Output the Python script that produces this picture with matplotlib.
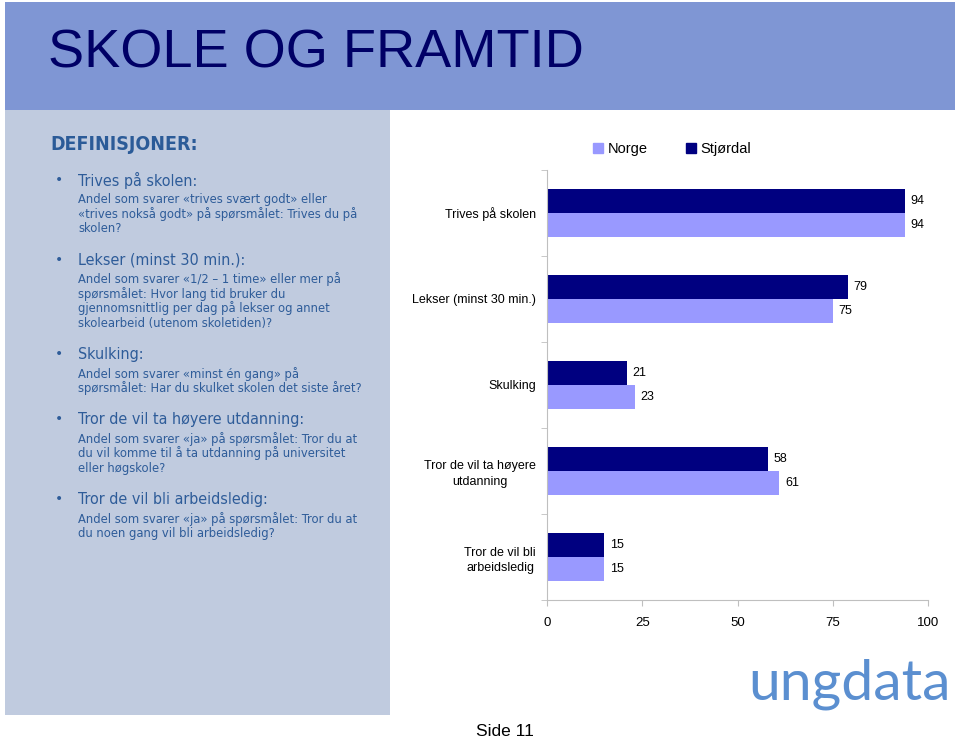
import matplotlib
matplotlib.use('Agg')
import matplotlib.pyplot as plt
from matplotlib.patches import Rectangle
import numpy as np

categories = ['Trives på skolen', 'Lekser (minst 30 min.)', 'Skulking',
              'Tror de vil ta høyere\nutdanning', 'Tror de vil bli\narbeidsledig']
stjordal = [94, 79, 21, 58, 15]
norge = [94, 75, 23, 61, 15]
xticks = [0, 25, 50, 75, 100]

definitions = [
    ('Trives på skolen:', ['Andel som svarer «trives svært godt» eller',
                           '«trives nokså godt» på spørsmålet: Trives du på',
                           'skolen?']),
    ('Lekser (minst 30 min.):', ['Andel som svarer «1/2 – 1 time» eller mer på',
                                 'spørsmålet: Hvor lang tid bruker du',
                                 'gjennomsnittlig per dag på lekser og annet',
                                 'skolearbeid (utenom skoletiden)?']),
    ('Skulking:', ['Andel som svarer «minst én gang» på',
                   'spørsmålet: Har du skulket skolen det siste året?']),
    ('Tror de vil ta høyere utdanning:', ['Andel som svarer «ja» på spørsmålet: Tror du at',
                                          'du vil komme til å ta utdanning på universitet',
                                          'eller høgskole?']),
    ('Tror de vil bli arbeidsledig:', ['Andel som svarer «ja» på spørsmålet: Tror du at',
                                       'du noen gang vil bli arbeidsledig?']),
]

c_norge = '#9999FF'
c_stj = '#000080'
txt_blue = '#2E5C99'
sans = ['DejaVu Sans']

fig = plt.figure(figsize=(9.6, 7.39), dpi=100)

# slide background in pixel coords
bg = fig.add_axes([0, 0, 1, 1])
bg.set_xlim(0, 960)
bg.set_ylim(739, 0)
bg.axis('off')
bg.add_patch(Rectangle((5, 2), 950, 108, color='#7F96D4', lw=0))
bg.add_patch(Rectangle((5, 110), 385, 605, color='#C0CBDF', lw=0))
bg.text(48, 53, 'SKOLE OG FRAMTID', fontsize=39, color='#000066',
        family=['Liberation Sans Narrow', 'Liberation Sans'], va='center')
bg.text(50, 145, 'DEFINISJONER:', fontsize=14, fontweight='bold', color='#2B5B98',
        family=sans, fontstretch='condensed', va='center')

y = 180
for head, lines in definitions:
    bg.text(55, y, '•', fontsize=10, color=txt_blue, va='center')
    bg.text(78, y, head, fontsize=11.5, color=txt_blue, family=sans,
            fontstretch='condensed', va='center')
    y += 19.5
    for ln in lines:
        bg.text(78, y, ln, fontsize=9.3, color=txt_blue, family=sans,
                fontstretch='condensed', va='center')
        y += 14.6
    y += 16.5

bg.text(505, 732, 'Side 11', fontsize=12.5, family='Liberation Sans', ha='center', va='center')
bg.text(849, 684, 'ungdata', fontsize=41, family='Lato',
        color='#5B8FD0', ha='center', va='center')

# chart
ax = fig.add_axes([547 / 960, 139 / 739, 381 / 960, 430 / 739])
pos = np.arange(len(categories))
h = 0.28
b1 = ax.barh(pos - h / 2, stjordal, height=h, color=c_stj, label='Stjørdal')
b2 = ax.barh(pos + h / 2, norge, height=h, color=c_norge, label='Norge')
ax.bar_label(b1, padding=4, fontsize=9, family='Liberation Sans')
ax.bar_label(b2, padding=4, fontsize=9, family='Liberation Sans')

ax.set_xlim(0, 100)
ax.set_ylim(len(categories) - 0.5, -0.5)
ax.set_xticks(xticks)
ax.set_xticklabels([str(v) for v in xticks], fontsize=9.5, family='Liberation Sans')
ax.set_yticks(pos)
ax.set_yticklabels(categories, fontsize=9, family='Liberation Sans', linespacing=1.35)
for tl in ax.get_yticklabels():
    tl.set_multialignment('center')
ax.set_yticks(np.arange(-0.5, len(categories)), minor=True)
ax.tick_params(axis='y', which='major', length=0, pad=8)
ax.tick_params(axis='y', which='minor', length=4, color='#BFBFBF')
ax.tick_params(axis='x', length=4, color='#BFBFBF', pad=8)
for s in ['top', 'right']:
    ax.spines[s].set_visible(False)
for s in ['left', 'bottom']:
    ax.spines[s].set_color('#BFBFBF')
ax.set_facecolor('none')

handles = [Rectangle((0, 0), 1, 1, color=c_norge), Rectangle((0, 0), 1, 1, color=c_stj)]
fig.legend(handles, ['Norge', 'Stjørdal'], loc='center', bbox_to_anchor=(672 / 960, 1 - 149 / 739),
           ncol=2, frameon=False, handlelength=0.7, handleheight=0.7, handletextpad=0.3,
           columnspacing=2.6, prop={'family': 'Liberation Sans', 'size': 10.5})

fig.savefig('out.png', dpi=100)
